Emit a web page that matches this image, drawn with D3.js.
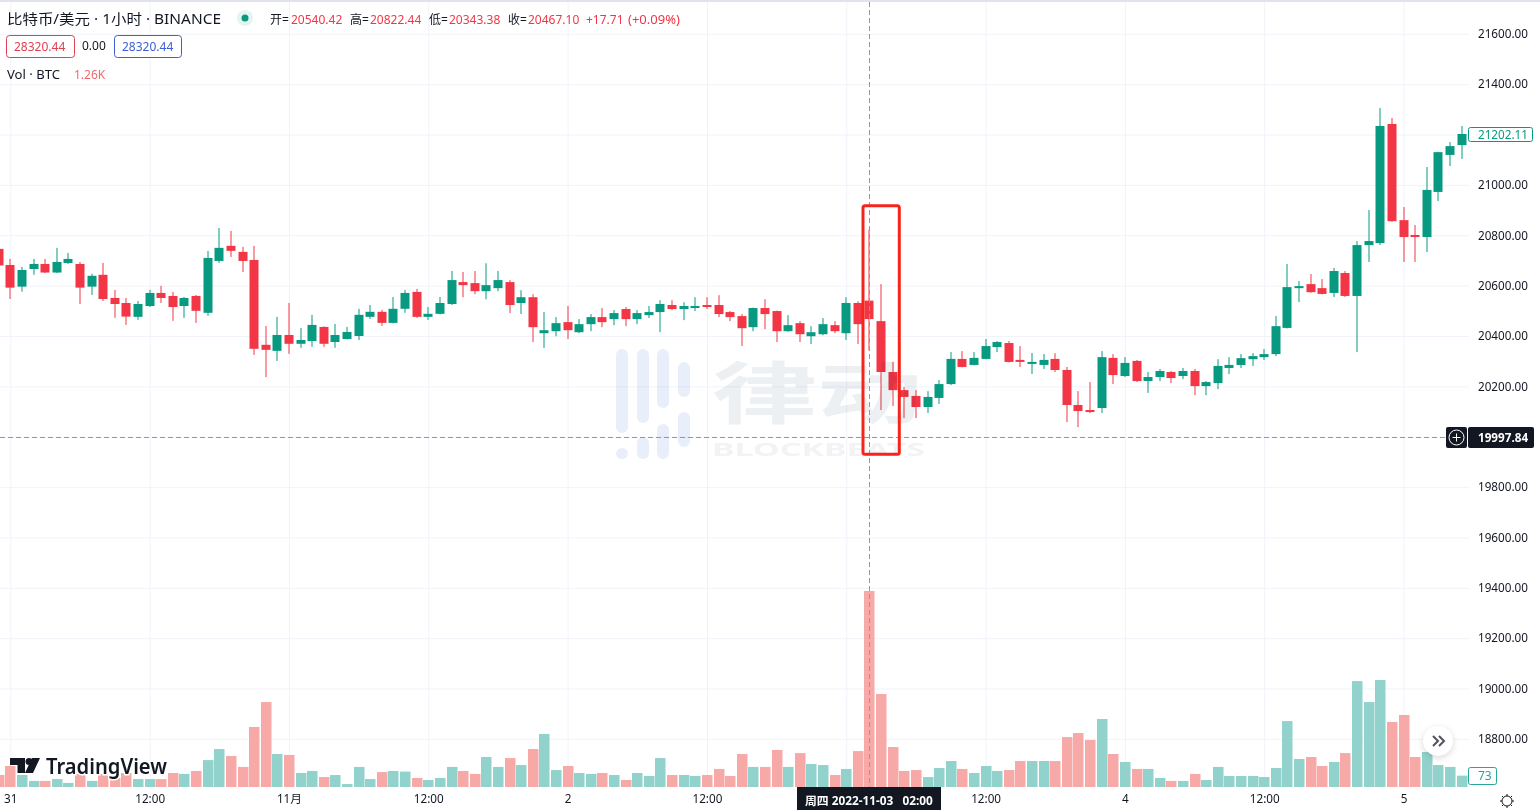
<!DOCTYPE html>
<html>
<head>
<meta charset="utf-8">
<style>
  html, body { margin: 0; padding: 0; background: #fff; overflow: hidden; }
  svg { display: block; }
  text { font-family: "Noto Sans", "Noto Sans CJK SC", sans-serif; }
  .grid line { stroke: #f0f3fa; stroke-width: 1; }
  .grid path { display: none; }
  .axis path, .axis line { display: none; }
  .axis text { font-size: 11.7px; fill: #131722; }
</style>
<script src="https://cdn.jsdelivr.net/npm/d3@7"></script>
</head>
<body>
<div id="chart"></div>
<script>
const opens = [
    20746,20682,20596,20666,20686,20652,20690,20686,20596,20643,
    20551,20531,20476,20519,20571,20559,20519,20559,20492,20698,
    20758,20734,20702,20365,20341,20404,20369,20380,20436,20376,
    20388,20400,20476,20496,20452,20508,20575,20476,20488,20527,
    20614,20610,20578,20590,20614,20531,20554,20411,20419,20455,
    20415,20447,20475,20467,20507,20467,20483,20495,20523,20507,
    20511,20523,20523,20495,20479,20435,20511,20499,20419,20451,
    20399,20407,20443,20411,20531,20540.42,20459,20257,20185,20162,
    20118,20154,20209,20309,20285,20309,20356,20372,20305,20289,
    20285,20309,20265,20126,20106,20114,20313,20241,20301,20221,
    20237,20257,20241,20261,20201,20213,20273,20285,20308,20316,
    20328,20432,20590,20606,20590,20571,20650,20559,20761,20769,
    21242,20860,20801,20793,20972,21119,21158
];
const closes = [
    20680,20592,20662,20686,20652,20694,20706,20592,20639,20547,
    20527,20477,20527,20571,20551,20515,20551,20500,20710,20750,
    20738,20698,20349,20345,20404,20369,20384,20444,20369,20404,
    20416,20484,20496,20452,20508,20571,20476,20488,20531,20622,
    20602,20578,20602,20622,20523,20554,20435,20423,20451,20423,
    20447,20475,20455,20491,20467,20491,20495,20527,20507,20519,
    20519,20515,20487,20475,20431,20511,20487,20419,20443,20407,
    20415,20447,20419,20531,20447,20467.10,20257,20185,20158,20118,
    20158,20209,20309,20277,20313,20360,20376,20297,20297,20297,
    20305,20265,20126,20102,20098,20316,20245,20293,20221,20237,
    20261,20233,20261,20201,20217,20281,20285,20312,20320,20328,
    20439,20594,20598,20574,20567,20658,20559,20761,20777,21234,
    20856,20793,20793,20980,21130,21154,21202.11
];
const highs = [
    20750,20706,20674,20706,20706,20750,20730,20694,20647,20690,
    20583,20551,20539,20583,20599,20575,20555,20563,20738,20829,
    20817,20754,20758,20440,20476,20531,20432,20484,20438,20448,
    20436,20508,20523,20504,20555,20583,20587,20515,20555,20658,
    20654,20658,20689,20658,20622,20582,20566,20495,20475,20519,
    20467,20487,20511,20503,20515,20503,20519,20542,20542,20534,
    20554,20554,20562,20499,20487,20513,20546,20501,20483,20459,
    20439,20471,20459,20554,20538,20822.44,20606,20297,20197,20185,
    20181,20225,20336,20340,20336,20388,20380,20380,20360,20332,
    20328,20332,20277,20181,20217,20340,20328,20316,20305,20257,
    20269,20261,20273,20269,20221,20308,20316,20328,20332,20348,
    20479,20686,20618,20646,20626,20670,20658,20777,20900,21305,
    21266,20912,20841,21071,21132,21170,21234
];
const lows = [
    20675,20547,20576,20643,20650,20650,20686,20527,20563,20539,
    20472,20444,20464,20515,20531,20460,20472,20452,20480,20690,
    20714,20654,20325,20237,20301,20329,20353,20357,20357,20353,
    20386,20384,20468,20440,20450,20492,20472,20464,20486,20523,
    20554,20566,20546,20578,20491,20487,20376,20352,20399,20388,
    20411,20419,20435,20443,20439,20447,20471,20415,20503,20463,
    20499,20507,20475,20459,20360,20419,20427,20376,20417,20376,
    20368,20403,20411,20384,20368,20343.38,20106,20122,20074,20074,
    20094,20130,20205,20275,20283,20307,20336,20295,20277,20249,
    20269,20257,20058,20038,20094,20094,20209,20237,20217,20174,
    20221,20213,20229,20165,20165,20189,20249,20273,20281,20304,
    20320,20430,20535,20572,20565,20555,20555,20336,20694,20761,
    20853,20694,20694,20733,20936,21075,21103
];
const volumes = [
    77,135,77,39,39,51,26,84,39,84,
    58,90,51,51,51,90,84,103,173,244,
    199,129,386,546,212,206,90,103,64,77,
    19,129,51,96,103,99,58,45,58,129,
    103,84,193,129,186,141,244,341,109,135,
    90,84,90,77,45,90,71,186,77,77,
    71,77,116,71,212,129,129,238,129,218,
    148,141,77,116,231,1260,598,257,103,109,
    64,122,167,116,90,135,103,109,167,167,
    167,167,321,347,302,437,212,161,116,116,
    58,39,39,84,45,129,71,71,71,64,
    122,424,180,193,135,161,218,681,546,688,
    418,463,193,225,141,129,73
];
const priceTicks = [21600,21400,21200,21000,20800,20600,20400,20200,20000,19800,19600,19400,19200,19000,18800];
const timeTicks = [1,13,25,37,49,61,73,85,97,109,121];
const timeLabels = ["31","12:00","11月","12:00","2","12:00","","12:00","4","12:00","5"];

const width = 1540, height = 810;
const upColor = "#089981", downColor = "#f23645";
const upVol = "#92d2cc", downVol = "#f7a9a8";

const x = d3.scaleLinear().domain([0, 126]).range([-1.3, 1461.6]);
const y = d3.scaleLinear().domain([18800, 21600]).range([738.9, 33.8]);
const yVol = d3.scaleLinear().domain([0, 1260]).range([787, 591]);

const svg = d3.select("#chart").append("svg")
    .attr("width", width)
    .attr("height", height);

svg.append("rect").attr("width", width).attr("height", 2).attr("fill", "#e0e3eb");

// grid
svg.append("g").attr("class", "grid")
    .attr("transform", "translate(0,787)")
    .call(d3.axisBottom(x).tickValues(timeTicks).tickSize(-785).tickFormat(""));
svg.append("g").attr("class", "grid")
    .attr("transform", "translate(1469,0)")
    .call(d3.axisLeft(y).tickValues(priceTicks).tickSize(1469).tickFormat(""));

// volume
const candleData = opens.map(function (o, i) {
    return {i: i, open: o, close: closes[i], high: highs[i], low: lows[i], vol: volumes[i]};
});

svg.selectAll(".vol")
    .data(candleData)
    .enter().append("rect")
    .attr("class", "vol")
    .attr("x", d => Math.round(x(d.i)) - 5)
    .attr("width", 10.5)
    .attr("y", d => yVol(d.vol))
    .attr("height", d => yVol(0) - yVol(d.vol))
    .attr("fill", d => d.close >= d.open ? upVol : downVol);

// candles
const candle = svg.selectAll(".candle")
    .data(candleData)
    .enter().append("g")
    .attr("class", "candle")
    .attr("fill", d => d.close >= d.open ? upColor : downColor);

candle.append("rect")
    .attr("x", d => Math.round(x(d.i)) - 0.5)
    .attr("width", 1)
    .attr("y", d => y(d.high))
    .attr("height", d => y(d.low) - y(d.high));

candle.append("rect")
    .attr("x", d => Math.round(x(d.i)) - 4.5)
    .attr("width", 9)
    .attr("y", d => y(Math.max(d.open, d.close)))
    .attr("height", d => Math.max(1.5, Math.abs(y(d.open) - y(d.close))));

// watermark
const mark = svg.append("g").style("mix-blend-mode", "multiply");
[[616,349,84],[637,349,74],[657,349,59],[678,362,35],[678,412,35],[657,424,35],[637,437,22],[616,448,11]].forEach(function (p) {
    mark.append("rect").attr("x", p[0]).attr("y", p[1]).attr("width", 12).attr("height", p[2])
        .attr("rx", 6).attr("fill", "#e9eefb");
});
mark.append("text")
    .attr("transform", "translate(712,418) scale(1.64,1.05)")
    .attr("font-size", 64).attr("font-weight", 700).attr("fill", "#edf0f3")
    .text("律动");
mark.append("text")
    .attr("x", 712).attr("y", 456)
    .attr("font-size", 18).attr("font-weight", 700).attr("fill", "#f1f3f5")
    .attr("textLength", 213).attr("lengthAdjust", "spacingAndGlyphs")
    .text("BLOCKBEATS");

// crosshair
svg.append("line").attr("x1", 869.5).attr("x2", 869.5).attr("y1", 2).attr("y2", 787)
    .attr("stroke", "#9598a1").attr("stroke-dasharray", "5 3");
svg.append("line").attr("x1", 0).attr("x2", 1446).attr("y1", 437.5).attr("y2", 437.5)
    .attr("stroke", "#9598a1").attr("stroke-dasharray", "5 3");

// annotation box
svg.append("rect")
    .attr("x", 863).attr("y", 205.7).attr("width", 36.3).attr("height", 248.6).attr("rx", 2)
    .attr("fill", "none").attr("stroke", "#f5251b").attr("stroke-width", 3);

// axes
const yAxis = svg.append("g").attr("class", "axis")
    .attr("transform", "translate(1469,0)")
    .call(d3.axisRight(y).tickValues(priceTicks).tickSize(0).tickPadding(9).tickFormat(d3.format(".2f")));
yAxis.selectAll("text").filter(d => d === 20000).remove();

svg.append("g").attr("class", "axis")
    .attr("transform", "translate(0,787)")
    .call(d3.axisBottom(x).tickValues(timeTicks).tickSize(0).tickPadding(8)
        .tickFormat((d, i) => timeLabels[i]));

// TradingView logo
const logo = svg.append("g");
logo.append("path").attr("fill", "#131722")
    .attr("d", "M10 758h15v15h-7.500v-8H10zM29 758a3.500 3.500 0 1 1 0 7 3.500 3.500 0 0 1 0-7zM32 758h8l-7 15h-8z");
logo.append("text")
    .attr("x", 46).attr("y", 774)
    .attr("font-size", 21).attr("font-weight", 600).attr("fill", "#131722")
    .attr("stroke", "#fff").attr("stroke-width", 3).attr("paint-order", "stroke")
    .attr("textLength", 121).attr("lengthAdjust", "spacingAndGlyphs")
    .text("TradingView");

// header
function label(px, py, str, color, size) {
    return svg.append("text").attr("x", px).attr("y", py)
        .attr("font-size", size || 12).attr("fill", color).text(str);
}
label(7, 24, "比特币/美元 · 1小时 · BINANCE", "#131722", 14)
    .attr("textLength", 214).attr("lengthAdjust", "spacingAndGlyphs");
svg.append("circle").attr("cx", 245).attr("cy", 18).attr("r", 8).attr("fill", "#e3f4f1");
svg.append("circle").attr("cx", 245).attr("cy", 18).attr("r", 3.5).attr("fill", upColor);

const ohlcRed = "#f23645";
label(270, 24, "开=", "#131722");
label(291, 24, "20540.42", ohlcRed);
label(350, 24, "高=", "#131722");
label(370, 24, "20822.44", ohlcRed);
label(429, 24, "低=", "#131722");
label(449, 24, "20343.38", ohlcRed);
label(508, 24, "收=", "#131722");
label(528, 24, "20467.10", ohlcRed);
label(586, 24, "+17.71", ohlcRed);
label(628, 24, "(+0.09%)", ohlcRed).attr("textLength", 52).attr("lengthAdjust", "spacingAndGlyphs");

svg.append("rect").attr("x", 6.500).attr("y", 35.500).attr("width", 68).attr("height", 22).attr("rx", 3)
    .attr("fill", "#fff").attr("stroke", "#e0404f");
label(14, 51, "28320.44", "#e0404f");
label(82, 50, "0.00", "#131722");
svg.append("rect").attr("x", 114.500).attr("y", 35.500).attr("width", 67).attr("height", 22).attr("rx", 3)
    .attr("fill", "#fff").attr("stroke", "#3d5fd6");
label(122, 51, "28320.44", "#3d5fd6");

label(7, 79, "Vol · BTC", "#131722").attr("textLength", 53).attr("lengthAdjust", "spacingAndGlyphs");
label(74, 79, "1.26K", "#ef6a70");

// price labels
svg.append("rect").attr("x", 1468.500).attr("y", 127.500).attr("width", 64).attr("height", 14).attr("rx", 2)
    .attr("fill", "#fff").attr("stroke", upColor);
label(1478, 139, "21202.11", upColor, 11.7);

svg.append("rect").attr("x", 1468.500).attr("y", 767.500).attr("width", 28).attr("height", 17).attr("rx", 2)
    .attr("fill", "#fff").attr("stroke", "#26a69a");
label(1478, 780, "73", "#26a69a");

// crosshair labels
svg.append("rect").attr("x", 1446).attr("y", 427).attr("width", 21).attr("height", 21).attr("rx", 2).attr("fill", "#131722");
svg.append("circle").attr("cx", 1456.500).attr("cy", 437.500).attr("r", 7.500).attr("fill", "none").attr("stroke", "#fff");
svg.append("path").attr("d", "M1456.500 433.500v8M1452.500 437.500h8").attr("stroke", "#fff");
svg.append("rect").attr("x", 1468).attr("y", 427).attr("width", 66).attr("height", 21).attr("rx", 2).attr("fill", "#131722");
label(1478, 442, "19997.84", "#fff", 11.7).attr("font-weight", 700);

svg.append("rect").attr("x", 797).attr("y", 787).attr("width", 144).attr("height", 23).attr("fill", "#131722");
label(805, 805, "周四 2022-11-03   02:00", "#fff", 11.8).attr("font-weight", 700)
    .style("white-space", "pre");

// scroll button
svg.append("circle").attr("cx", 1438).attr("cy", 741).attr("r", 15).attr("fill", "#fff")
    .style("filter", "drop-shadow(0 2px 3px rgba(0,0,0,0.15))");
svg.append("path").attr("d", "M1433 736l5 5-5 5M1439 736l5 5-5 5")
    .attr("fill", "none").attr("stroke", "#50535e").attr("stroke-width", 2);

// settings gear
const gear = svg.append("g").attr("transform", "translate(1507,801)")
    .attr("fill", "none").attr("stroke", "#131722");
gear.append("circle").attr("r", 5);
gear.append("path").attr("d", "M0-7V-5M0 5V7M-7 0H-5M5 0H7M-5-5L-3.500-3.500M3.500 3.500L5 5M5-5L3.500-3.500M-3.500 3.500L-5 5");
</script>
</body>
</html>
